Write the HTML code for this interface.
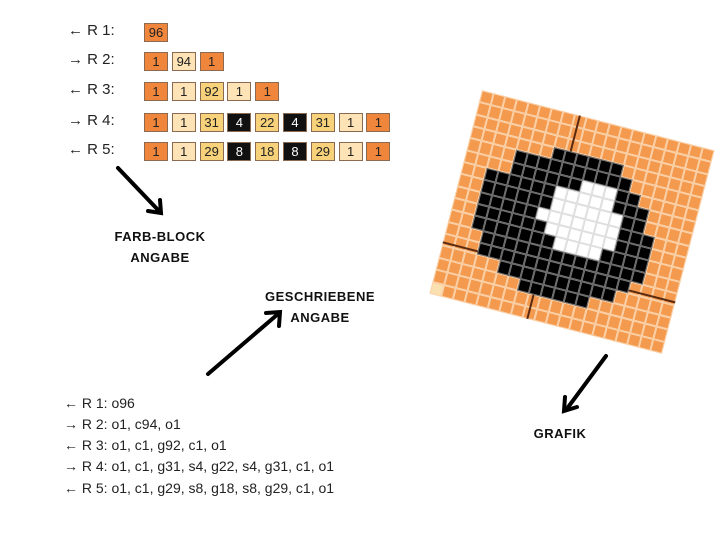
<!DOCTYPE html>
<html><head><style>
body{margin:0;width:720px;height:540px;background:#fff;position:relative;overflow:hidden;font-family:"Liberation Sans",sans-serif;}
.lab{position:absolute;left:68px;font-size:15px;color:#222;}
.b{position:absolute;width:22px;height:17px;border:1px solid #8a6a50;font-size:13px;text-align:center;line-height:17px;color:#222;}
.o{background:#f0853c}.c{background:#fde3b5}.g{background:#f8d27a}.s{background:#111;color:#fff}
.t{position:absolute;left:64px;font-size:14px;color:#222;}
.h{position:absolute;font-weight:bold;font-size:13px;color:#111;text-align:center;line-height:21px;letter-spacing:0.5px}
#grid{position:absolute;left:452px;top:117px;width:240px;height:210px;transform:rotate(14.5deg);transform-origin:center;display:grid;grid-template-columns:repeat(20,12px);grid-template-rows:repeat(17,12.35px);background:#f49a4e}
#grid div{border:0.5px solid #fbd3ac;box-sizing:border-box}
#grid .k{background:#000;border-color:#777;position:relative;z-index:2}#grid .w{background:#fff;border-color:#ddd;position:relative;z-index:2}#grid .y{background:#fbe0b0}
#grid .ln{position:absolute;background:#5a2a10;border:none;z-index:1}
</style></head><body>
<div class="lab" style="top:22px">← R 1:</div>
<div class="lab" style="top:51px">→ R 2:</div>
<div class="lab" style="top:81px">← R 3:</div>
<div class="lab" style="top:112px">→ R 4:</div>
<div class="lab" style="top:141px">← R 5:</div>
<div id="rows"></div>
<div class="t" style="top:395px">← R 1: o96</div>
<div class="t" style="top:416px">→ R 2: o1, c94, o1</div>
<div class="t" style="top:437px">← R 3: o1, c1, g92, c1, o1</div>
<div class="t" style="top:458px">→ R 4: o1, c1, g31, s4, g22, s4, g31, c1, o1</div>
<div class="t" style="top:480px">← R 5: o1, c1, g29, s8, g18, s8, g29, c1, o1</div>
<div class="h" style="left:100px;top:226px;width:120px">FARB-BLOCK<br>ANGABE</div>
<div class="h" style="left:250px;top:286px;width:140px">GESCHRIEBENE<br>ANGABE</div>
<div class="h" style="left:520px;top:423px;width:80px">GRAFIK</div>
<div id="grid"></div>
<svg width="720" height="540" style="position:absolute;left:0;top:0">
<g stroke="#000" stroke-width="4" fill="none" stroke-linecap="round">
<line x1="118" y1="168" x2="160" y2="212"/><polyline points="148,211 161,213 160,200"/>
<line x1="208" y1="374" x2="278" y2="314"/><polyline points="266,313 280,312 279,326"/>
<line x1="606" y1="356" x2="566" y2="410"/><polyline points="565,397 564,411 577,407"/>
</g></svg>
<script>
var R=[["o96"],["o1","c94","o1"],["o1","c1","g92","c1","o1"],["o1","c1","g31","s4","g22","s4","g31","c1","o1"],["o1","c1","g29","s8","g18","s8","g29","c1","o1"]];
var Y=[23,52,82,113,142],h="";
R.forEach(function(r,i){r.forEach(function(v,j){h+='<div class="b '+v[0]+'" style="left:'+(144+j*27.8)+'px;top:'+Y[i]+'px">'+v.slice(1)+'</div>';});});
document.getElementById("rows").innerHTML=h;
var P=["","","",
".......BBBBBB.......",
"....BBBBBBBBBB......",
"....BBBBBBWWWBB.....",
"..BBBBBBWWWWWBBB....",
"..BBBBBBWWWWWWBB....",
"..BBBBBWWWWWWWBBB...",
"..BBBBBBWWWWWWBBB...",
"..BBBBBBBWWWWBBBB...",
"...BBBBBBBBBBBBBB...",
"...BBBBBBBBBBBBB....",
".....BBBBBBBBBB.....",
".......BBBBBB.......","",""];
var g="";for(var r=0;r<17;r++)for(var c=0;c<20;c++){var ch=(P[r]||"")[c]||".";if(r==16&&c==0)ch="Y";g+='<div class="'+(ch=="B"?"k":ch=="W"?"w":ch=="Y"?"y":"")+'"></div>';}
g+='<div class="ln" style="left:100px;top:0;width:1.5px;height:210px"></div><div class="ln" style="left:0;top:156px;width:240px;height:1.5px"></div>';
document.getElementById("grid").innerHTML=g;
</script>
</body></html>
